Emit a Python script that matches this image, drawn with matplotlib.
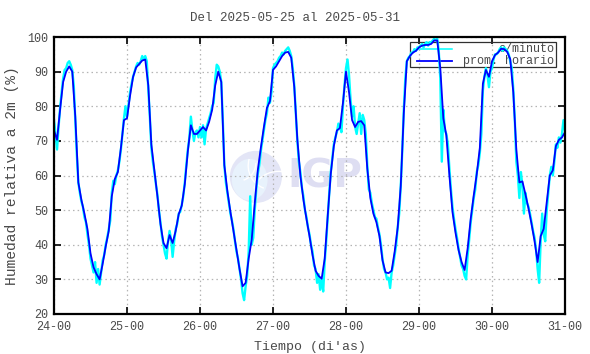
#!/usr/bin/python3

import numpy as np
import matplotlib
matplotlib.use('Agg')
import matplotlib.pyplot as plt
from matplotlib.patches import Ellipse, Rectangle, Arc

### Data (relative humidity, %)
TITLE = 'Del 2025-05-25 al 2025-05-31'
DAYS = [24, 25, 26, 27, 28, 29, 30, 31]
DAY_LABELS = ['24-00', '25-00', '26-00', '27-00', '28-00', '29-00', '30-00', '31-00']
Y_TICKS = [20, 30, 40, 50, 60, 70, 80, 90, 100]

# hourly average, one list per day (hours 00..23)
hourly_24 = [73, 70.3, 79, 87, 90, 91.5, 90, 77, 58, 53, 49, 44.5,
             37.5, 33.5, 31.5, 30, 34.5, 39.5, 44, 54, 59, 61, 68, 76]
hourly_25 = [76.5, 83, 88.5, 91.2, 92.2, 93.2, 93.5, 86, 69, 61.5, 54, 46,
             40.5, 39, 42.8, 40.5, 44, 48.8, 51.3, 57.5, 67, 74.5, 72, 72]
hourly_26 = [73, 74, 73, 75.5, 79, 86, 90, 87, 63, 55.5, 49.5, 44,
             38.5, 33, 28, 29, 36, 41.5, 52, 61.5, 68, 74, 79.5, 81.5]
hourly_27 = [90.5, 91.5, 93, 94.5, 95.5, 95.7, 94, 85.5, 70.5, 60, 53, 47.5,
             42.5, 37, 32.5, 31, 30.2, 36, 48.5, 60.5, 68.5, 73, 73.7, 81]
hourly_28 = [90, 84, 76, 74, 75.5, 75.7, 74.5, 62, 53.5, 49, 46.5, 42.5,
             35.5, 32, 31.8, 32.5, 38, 45, 57, 78, 93, 94.5, 95.5, 96]
hourly_29 = [97, 97.5, 97.7, 97.7, 98, 99, 99, 91, 76.5, 71.5, 60, 49.5,
             43.5, 38.5, 35, 32.7, 39, 47.5, 54.3, 60.5, 68, 86.5, 90.5, 88.5]
hourly_30 = [93, 94.8, 95.5, 96.6, 96.5, 95.7, 93.6, 84, 67.5, 58, 58.3, 54.5,
             50.5, 46, 41, 35, 42.5, 44.6, 52.3, 60, 61.5, 68.5, 70.3, 71]
hourly_end = [72.5]   # 31-00

# per-minute record, sampled every half hour (00:00, 00:30, 01:00, ...)
minute_24 = [76, 72, 67.5, 74, 79.5, 84, 88, 90.5, 91, 92.5, 93, 92,
             90.5, 86, 76, 66, 58, 55, 52.5, 51, 48, 46.5, 43, 40,
             36, 34, 32, 35, 29, 33, 28.5, 32, 35.5, 37, 40, 42,
             44.5, 47, 55, 58.5, 57.5, 60, 61.5, 64, 67.5, 72, 76.5, 80]
minute_25 = [77, 80.5, 84, 86.5, 88.5, 90, 91.5, 92.5, 92, 93, 94.5, 93.5,
             94.5, 93, 85, 77, 68, 64, 61, 57.5, 54.5, 50, 46.5, 42.5,
             40, 37.5, 36, 41, 44, 41.5, 36.5, 41, 44.5, 46, 49, 49.5,
             51.5, 54, 58, 63, 67.5, 71, 77, 73, 70, 72.5, 73, 71]
minute_26 = [74, 71, 74.5, 69, 73.5, 75, 76.5, 78, 80, 81, 88, 92,
             91.5, 90, 87, 76, 63, 58, 55, 52, 49, 47, 44.5, 41,
             38, 36, 33, 30, 26, 24, 28, 31, 38, 54, 40, 42,
             50, 56, 60.5, 63, 67, 70, 73, 76, 78, 82.5, 81, 84]
minute_27 = [91, 92, 92.5, 93, 94, 94.5, 95.5, 95, 96, 96.5, 97, 96,
             94.5, 91, 86, 78, 70, 64, 61, 56.5, 54, 50, 48, 45,
             43, 40, 38, 34, 33, 29, 31.5, 27, 30, 26.5, 35, 41,
             48, 55, 61, 65, 69, 71, 72.5, 75, 74, 72.5, 80, 86]
minute_28 = [91, 93.5, 89, 82, 77, 80, 74, 72, 75, 78, 72, 77.5,
             76, 72, 63, 56, 55, 52, 50, 48, 47.5, 45, 43, 40,
             36, 33, 32, 30, 30.5, 27.5, 32, 34, 37, 40, 45, 49,
             57, 67, 79, 88, 93, 94, 94.5, 95.5, 95.5, 96.5, 96, 97]
minute_29 = [97, 97.5, 98, 97, 98, 98.5, 97.5, 98.5, 98.5, 99, 99.5, 99,
             99.5, 96, 88, 64, 79, 73, 72, 69, 62, 56, 51, 47.5,
             44.5, 42, 39, 36.5, 34, 33, 31, 30, 37, 41.5, 46.5, 50,
             53.5, 56, 61, 63, 66.5, 72, 84.5, 88.5, 91, 89, 85.5, 90]
minute_30 = [91, 93.5, 95, 95, 95.5, 96.5, 97, 96, 97, 96.5, 96, 95,
             93, 91, 85, 76, 64, 60, 53.5, 61, 57, 49, 55, 52,
             51, 49, 46.5, 44, 42, 38.5, 33, 29, 41, 49, 43, 41,
             50, 55, 60, 62.5, 60, 64, 69, 68, 71, 69.5, 72, 76]
minute_end = [73]

hourly = (hourly_24 + hourly_25 + hourly_26 + hourly_27 + hourly_28
          + hourly_29 + hourly_30 + hourly_end)
minute = (minute_24 + minute_25 + minute_26 + minute_27 + minute_28
          + minute_29 + minute_30 + minute_end)

# time axis in days (24.0 = day 24, 00h)
t_hour = DAYS[0] + np.arange(len(hourly)) / 24.0
t_min = DAYS[0] + np.arange(len(minute)) / 48.0

TXT = '#4a4a4a'
MONO = ['Liberation Mono', 'DejaVu Sans Mono']

fig = plt.figure(figsize=(5.9, 3.54), dpi=100)
ax = fig.add_axes([54/590, 40/354, 511/590, 277/354])

ax.plot(t_min, minute, color='#00ffff', lw=1.7, zorder=3)
ax.plot(t_hour, hourly, color='#0000ff', lw=1.3, zorder=4)

ax.set_xlim(DAYS[0], DAYS[-1])
ax.set_ylim(Y_TICKS[0], Y_TICKS[-1])
ax.set_xticks(DAYS)
ax.set_xticklabels(DAY_LABELS)
ax.set_yticks(Y_TICKS)

ax.tick_params(direction='in', length=5, width=1.2, top=True, right=True,
               labelsize=8.5, labelcolor=TXT)
ax.tick_params(axis='x', pad=5)
ax.tick_params(axis='y', pad=4)
for lab in ax.get_xticklabels() + ax.get_yticklabels():
    lab.set_family(MONO)
for s in ax.spines.values():
    s.set_linewidth(1.6)
    s.set_zorder(6)

ax.grid(True, color='#b4b4b4', linestyle=(0, (1.2, 2.5)), linewidth=0.9, zorder=0)

ax.set_xlabel("Tiempo (di'as)", family=MONO, fontsize=9.5, color=TXT, labelpad=6)
ax.set_ylabel('Humedad relativa a 2m (%)', family=MONO, fontsize=10.5, color=TXT, labelpad=6)
fig.text(0.5, 1 - 18/354, TITLE, family=MONO, fontsize=9, color=TXT,
         ha='center', va='center')

# IGP watermark
cx, cy = 0.395, 0.495
ax.add_patch(Ellipse((cx, cy), 0.102, 0.188, transform=ax.transAxes,
                     facecolor='#e3e5f6', edgecolor='none', zorder=1))
ax.add_patch(Ellipse((cx - 0.012, cy - 0.01), 0.07, 0.15, transform=ax.transAxes,
                     facecolor='#e8f2fc', edgecolor='none', zorder=1))
for (ox, oy, w, h, a1, a2) in [(0.03, 0.04, 0.09, 0.17, 150, 260),
                                 (0.045, -0.06, 0.10, 0.16, 60, 160),
                                 (-0.035, 0.05, 0.07, 0.13, 280, 360)]:
    ax.add_patch(Arc((cx + ox, cy + oy), w, h, theta1=a1, theta2=a2,
                     transform=ax.transAxes, color='white', lw=1.0, zorder=1))
ax.text(0.456, cy, 'IGP', transform=ax.transAxes, fontsize=28, fontweight='bold',
        family='DejaVu Sans', color='#dedef2', ha='left', va='center', zorder=1)

# gnuplot-style key, drawn by hand so the text is right aligned
ax.add_patch(Rectangle((0.697, 0.892), 0.285, 0.09, transform=ax.transAxes,
                       facecolor='none', edgecolor='#303030', lw=0.9, zorder=2))
ax.plot([0.71, 0.779], [0.958, 0.958], transform=ax.transAxes, color='#00ffff', lw=1.1, zorder=2)
ax.plot([0.71, 0.779], [0.913, 0.913], transform=ax.transAxes, color='#0000ff', lw=1.3, zorder=2)
ax.text(0.978, 0.958, 'c/minuto', transform=ax.transAxes, family=MONO, fontsize=8.5,
        color=TXT, ha='right', va='center', zorder=2)
ax.text(0.978, 0.913, 'prom. horario', transform=ax.transAxes, family=MONO, fontsize=8.5,
        color=TXT, ha='right', va='center', zorder=2)

fig.savefig('out.png', dpi=100)
plt.close(fig)
